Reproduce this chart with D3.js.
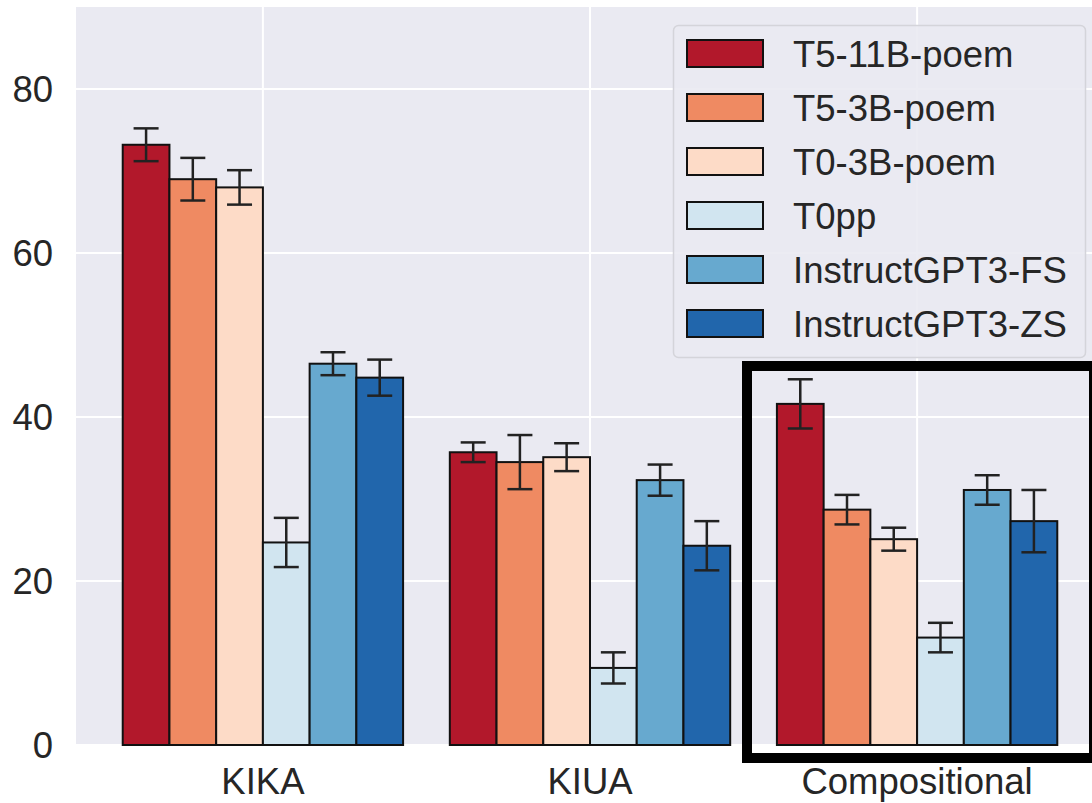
<!DOCTYPE html>
<html>
<head>
<meta charset="utf-8">
<script src="https://cdn.jsdelivr.net/npm/d3@7"></script>
<style>
  html, body { margin: 0; padding: 0; background: #fff; }
  text { font-family: "Liberation Sans", Arial, sans-serif; fill: #262626; }
</style>
</head>
<body>
<svg id="chart" width="1092" height="803"></svg>
<script>
// data
var categories = ["KIKA", "KIUA", "Compositional"];
var models = ["T5-11B-poem", "T5-3B-poem", "T0-3B-poem", "T0pp", "InstructGPT3-FS", "InstructGPT3-ZS"];
var colors = ["#b2182b", "#ef8a62", "#fddbc7", "#d1e5f0", "#67a9cf", "#2166ac"];

// one row per model, one value per category
var means = [
  [73.2, 35.7, 41.6],
  [69.0, 34.5, 28.7],
  [68.0, 35.1, 25.1],
  [24.7, 9.4, 13.1],
  [46.5, 32.3, 31.1],
  [44.8, 24.3, 27.3]
];
var errors = [
  [2.0, 1.2, 3.0],
  [2.6, 3.3, 1.8],
  [2.1, 1.7, 1.4],
  [3.0, 1.9, 1.8],
  [1.4, 1.9, 1.8],
  [2.2, 3.0, 3.8]
];
var yTicks = [0, 20, 40, 60, 80];

var FONT = 36.5;
var svg = d3.select("#chart");

var plot = {left: 76, right: 1104, top: 7, bottom: 745};

var x = d3.scaleLinear()
  .domain([-0.5714, 2.5714])
  .range([plot.left, plot.right]);
var y = d3.scaleLinear()
  .domain([0, 90])
  .range([plot.bottom, plot.top]);

var barW = 1 / 7;

// background
svg.append("rect")
  .attr("x", plot.left)
  .attr("y", plot.top)
  .attr("width", plot.right - plot.left)
  .attr("height", plot.bottom - plot.top)
  .attr("fill", "#eaeaf2");

// grid
var grid = svg.append("g").attr("stroke", "#fff").attr("stroke-width", 2);
grid.selectAll("line.h")
  .data(yTicks)
  .enter().append("line")
  .attr("x1", plot.left).attr("x2", plot.right)
  .attr("y1", function(d) { return y(d); })
  .attr("y2", function(d) { return y(d); });
grid.selectAll("line.v")
  .data(categories)
  .enter().append("line")
  .attr("y1", plot.top).attr("y2", plot.bottom)
  .attr("x1", function(d, i) { return x(i); })
  .attr("x2", function(d, i) { return x(i); });

// flatten into bar records
var bars = [];
models.forEach(function(m, mi) {
  categories.forEach(function(c, ci) {
    bars.push({model: mi, cat: ci, value: means[mi][ci], err: errors[mi][ci]});
  });
});

function barCenter(d) {
  return d.cat + (d.model - 2.5) * barW;
}

svg.append("g")
  .selectAll("rect")
  .data(bars)
  .enter().append("rect")
  .attr("x", function(d) { return x(barCenter(d) - barW / 2); })
  .attr("width", function(d) { return x(barW) - x(0); })
  .attr("y", function(d) { return y(d.value); })
  .attr("height", function(d) { return y(0) - y(d.value); })
  .attr("fill", function(d) { return colors[d.model]; })
  .attr("stroke", "#111")
  .attr("stroke-width", 2);

// error bars
var capHalf = 12.5;
var eb = svg.append("g")
  .attr("stroke", "#222")
  .attr("stroke-width", 2.5);
eb.selectAll("line.stem")
  .data(bars)
  .enter().append("line")
  .attr("x1", function(d) { return x(barCenter(d)); })
  .attr("x2", function(d) { return x(barCenter(d)); })
  .attr("y1", function(d) { return y(d.value - d.err); })
  .attr("y2", function(d) { return y(d.value + d.err); });
[1, -1].forEach(function(sign) {
  eb.selectAll("line.cap" + sign)
    .data(bars)
    .enter().append("line")
    .attr("x1", function(d) { return x(barCenter(d)) - capHalf; })
    .attr("x2", function(d) { return x(barCenter(d)) + capHalf; })
    .attr("y1", function(d) { return y(d.value + sign * d.err); })
    .attr("y2", function(d) { return y(d.value + sign * d.err); });
});

// y tick labels
svg.append("g")
  .selectAll("text")
  .data(yTicks)
  .enter().append("text")
  .attr("x", 53)
  .attr("y", function(d) { return y(d) + FONT * 0.36; })
  .attr("text-anchor", "end")
  .attr("font-size", FONT)
  .text(function(d) { return d; });

// x tick labels
svg.append("g")
  .selectAll("text")
  .data(categories)
  .enter().append("text")
  .attr("x", function(d, i) { return x(i); })
  .attr("y", 794)
  .attr("text-anchor", "middle")
  .attr("font-size", FONT)
  .text(function(d) { return d; });

// highlight box round the compositional group
svg.append("rect")
  .attr("x", 747)
  .attr("y", 366)
  .attr("width", 1094 - 747)
  .attr("height", 758 - 366)
  .attr("fill", "none")
  .attr("stroke", "#000")
  .attr("stroke-width", 10);

// legend
var legend = svg.append("g");
legend.append("rect")
  .attr("x", 673.5)
  .attr("y", 25.5)
  .attr("width", 1085 - 673)
  .attr("height", 357 - 25)
  .attr("rx", 5)
  .attr("fill", "#eaeaf2")
  .attr("fill-opacity", 0.9)
  .attr("stroke", "#d4d4da")
  .attr("stroke-width", 1.5);

var rowH = 54, row0 = 53.5;
var items = legend.selectAll("g.item")
  .data(models)
  .enter().append("g")
  .attr("transform", function(d, i) { return "translate(0," + (row0 + i * rowH) + ")"; });
items.append("rect")
  .attr("x", 687)
  .attr("y", -13.5)
  .attr("width", 76)
  .attr("height", 27)
  .attr("fill", function(d, i) { return colors[i]; })
  .attr("stroke", "#111")
  .attr("stroke-width", 2);
items.append("text")
  .attr("x", 793)
  .attr("y", FONT * 0.36)
  .attr("font-size", FONT)
  .text(function(d) { return d; });
</script>
</body>
</html>
